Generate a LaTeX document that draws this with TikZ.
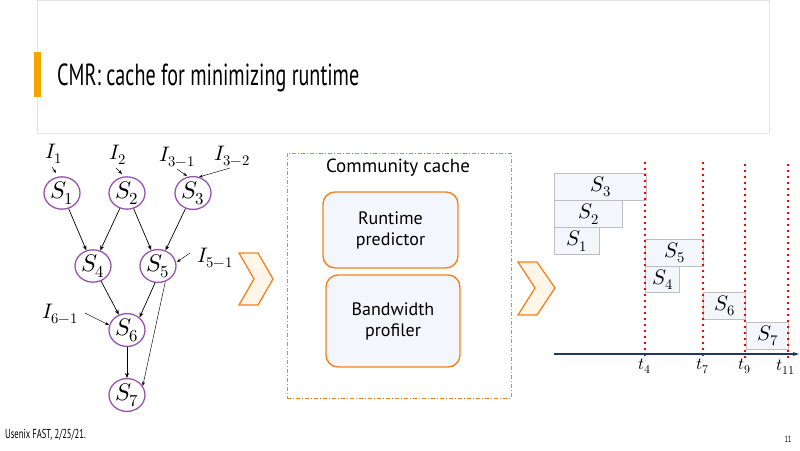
\documentclass[tikz,border=0pt]{standalone}
\usepackage{fontspec}
\usepackage{unicode-math}
\setmainfont{PT Sans}
\setmathfont{Latin Modern Math}
\newfontfamily\condfont[FakeStretch=0.66]{PT Sans}
\usetikzlibrary{arrows.meta,shapes.geometric}
\definecolor{stp}{RGB}{150,84,172}
\definecolor{org}{RGB}{245,130,32}
\definecolor{barorg}{RGB}{245,166,0}
\definecolor{boxfill}{RGB}{243,246,250}
\definecolor{chevfill}{RGB}{255,246,232}
\definecolor{gbord}{RGB}{190,190,190}
\definecolor{navy}{RGB}{31,56,100}
\definecolor{hdr}{RGB}{228,228,228}
\tikzset{
  st/.style={ellipse, draw=stp, line width=1.3pt, minimum width=36pt, minimum height=28pt, inner sep=0pt, font=\fontsize{24}{24}\selectfont},
  lab/.style={inner sep=1pt, font=\fontsize{21}{21}\selectfont},
  arr/.style={-{Stealth[length=5pt,width=4pt]}, line width=0.7pt},
  iarr/.style={-{Stealth[length=4pt,width=3pt]}, line width=0.45pt},
  chev/.style={draw=org, fill=chevfill, line width=1.3pt, line join=miter},
  rbox/.style={draw=org, fill=boxfill, line width=1.4pt, rounded corners=12pt, align=center, font=\fontsize{18}{21}\selectfont},
  gbox/.style={draw=gbord, fill=boxfill, line width=1.3pt, anchor=north west, inner sep=0pt, font=\fontsize{21}{21}\selectfont},
  vdot/.style={red, line width=1.6pt, dash pattern=on 1.8pt off 4.2pt},
  tl/.style={font=\fontsize{17}{17}\selectfont, inner sep=1pt}
}
\begin{document}
\begin{tikzpicture}[x=1pt,y=-1pt]
\useasboundingbox (0,0) rectangle (800,450);
% header
\draw[draw=hdr, line width=0.8pt] (37,0.5) rectangle (769,133);
\fill[barorg] (34,52) rectangle (41,97);
\node[anchor=base west, inner sep=0pt, font=\condfont\fontsize{30.5}{31}\selectfont] (title) at (57,85) {CMR: cache for minimizing runtime};
% DAG
\node[st] (s1) at (62,193) {$S_1$};
\node[st] (s2) at (127,193) {$S_2$};
\node[st] (s3) at (193,193) {$S_3$};
\node[st] (s4) at (93,266) {$S_4$};
\node[st] (s5) at (158,266) {$S_5$};
\node[st] (s6) at (127,330) {$S_6$};
\node[st] (s7) at (127,395) {$S_7$};
\draw[arr] (s1) -- (s4);
\draw[arr] (s2) -- (s4);
\draw[arr] (s2) -- (s5);
\draw[arr] (s3) -- (s5);
\draw[arr] (s4) -- (s6);
\draw[arr] (s5.-100) -- (s6.45);
\draw[arr] (s6) -- (s7);
\draw[iarr] (s5.-65) -- (s7.30);
% inputs
\node[lab] (i1) at (54,154) {$I_1$};
\node[lab] (i2) at (118,155) {$I_2$};
\node[lab] (i31) at (177,157) {$I_{3-1}$};
\node[lab] (i32) at (232,156) {$I_{3-2}$};
\node[lab] (i51) at (215,258) {$I_{5-1}$};
\node[lab] (i61) at (60,314) {$I_{6-1}$};
\coordinate (e1) at (56,173);
\coordinate (e2) at (122,174);
\coordinate (e31) at (187,176);
\coordinate (e32) at (199,177);
\coordinate (e51) at (177,262);
\coordinate (e61) at (109,325);
\draw[iarr] (52,167) -- (e1);
\draw[iarr] (116,168) -- (e2);
\draw[iarr] (177,169) -- (e31);
\draw[iarr] (230,168) -- (e32);
\draw[iarr] (190,253) -- (e51);
\draw[iarr] (85,313) -- (e61);
% chevrons
\draw[chev] (239,253) -- (258,253) -- (273,279) -- (258,305) -- (239,305) -- (254,279) -- cycle;
\draw[chev] (518,262) -- (537,262) -- (555,288) -- (537,315) -- (518,315) -- (535,288) -- cycle;
% community cache
\node[draw=org, dash pattern=on 4pt off 2pt on 1pt off 2pt, line width=0.9pt, minimum width=224pt, minimum height=245pt, inner sep=0pt] (cc) at (399,275.5) {};
\node[font=\fontsize{19}{19}\selectfont] (cct) at (398,168) {Community cache};
\node[rbox, minimum width=135pt, minimum height=76pt] (rp) at (390.5,230) {Runtime\\predictor};
\node[rbox, minimum width=134pt, minimum height=92pt] (bp) at (393,321) {Bandwidth\\profiler};
% gantt
\node[gbox, minimum width=92pt, minimum height=27pt] (g3) at (554,173) {$S_3$};
\node[gbox, minimum width=68pt, minimum height=27pt] (g2) at (554,200) {$S_2$};
\node[gbox, minimum width=45pt, minimum height=27pt] (g1) at (554,227) {$S_1$};
\node[gbox, minimum width=58pt, minimum height=27pt] (g5) at (645,239) {$S_5$};
\node[gbox, minimum width=34pt, minimum height=26pt] (g4) at (645,266) {$S_4$};
\node[gbox, minimum width=42pt, minimum height=27pt] (g6) at (703,292) {$S_6$};
\node[gbox, minimum width=42pt, minimum height=27pt] (g7) at (746,322) {$S_7$};
\draw[vdot] (645,162) -- (645,360);
\draw[vdot] (703,162) -- (703,360);
\draw[vdot] (745,164) -- (745,360);
\draw[vdot] (788,164) -- (788,362);
\draw[navy, line width=1.2pt, -{Stealth[length=6pt,width=4pt]}] (554,354) -- (799,354);
\node[tl] (t4) at (645,366) {$t_4$};
\node[tl] (t7) at (703,366) {$t_7$};
\node[tl] (t9) at (745,366) {$t_9$};
\node[tl] (t11) at (786,367) {$t_{11}$};
% footer
\node[anchor=base west, inner sep=0pt, font=\condfont\fontsize{13}{13}\selectfont] (foot) at (5,438) {Usenix FAST, 2/25/21.};
\node[anchor=base, inner sep=0pt, font=\condfont\fontsize{9}{9}\selectfont] (pg) at (788,442) {11};
\end{tikzpicture}
\end{document}
